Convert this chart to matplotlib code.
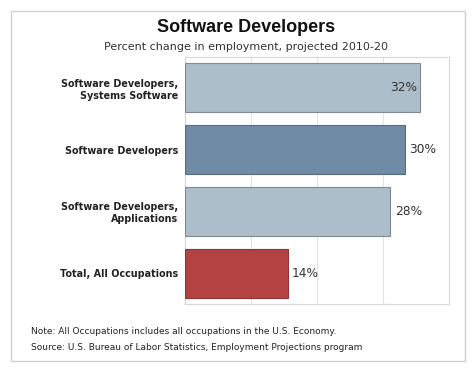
import matplotlib
matplotlib.use("Agg")
import matplotlib.pyplot as plt
from matplotlib.patches import Rectangle

W, H, DPI = 474, 369, 100

categories = ["Software Developers,\nSystems Software", "Software Developers",
              "Software Developers,\nApplications", "Total, All Occupations"]
values = [32, 30, 28, 14]
colors = ["#adbecb", "#6f8ba5", "#adbecb", "#b54242"]
edges = ["#7f8a93", "#5a6d80", "#7f8a93", "#8e3535"]
grid_ticks = [9, 18, 27]

fig = plt.figure(figsize=(W / DPI, H / DPI), dpi=DPI)
fig.patch.set_facecolor("white")

# outer frame of the graphic
fig.add_artist(Rectangle((11 / W, 1 - 361 / H), 454 / W, 350 / H,
                         transform=fig.transFigure, fill=False,
                         edgecolor="#d0d0d0", linewidth=1))

ax = fig.add_axes([185 / W, 1 - 304 / H, 264 / W, 247 / H])
ys = range(len(categories))
ax.barh(ys, values, height=0.79, color=colors, edgecolor=edges,
        linewidth=0.8, zorder=3)
ax.set_xlim(0, 36)
ax.set_ylim(len(categories) - 0.5, -0.5)
ax.set_xticks(grid_ticks)
ax.set_xticklabels([])
ax.tick_params(length=0)
ax.grid(axis="x", color="#e4e4e4", linewidth=0.8, zorder=0)
for sp in ax.spines.values():
    sp.set_color("#d8d8d8")
    sp.set_linewidth(0.8)

ax.set_yticks(list(ys))
ax.set_yticklabels(categories, fontsize=6.9, fontweight="bold",
                   family="DejaVu Sans", color="#222222", linespacing=1.25)
ax.tick_params(axis="y", pad=5)

for i, v in enumerate(values):
    if i == 0:
        ax.text(v - 0.3, i, f"{v}%", ha="right", va="center", fontsize=8.8,
                color="#333333", zorder=4)
    else:
        ax.text(v + 0.6, i, f"{v}%", ha="left", va="center", fontsize=8.8,
                color="#333333", zorder=4)

fig.text(246 / W, 1 - 28 / H, "Software Developers", ha="center",
         va="center", fontsize=13, fontweight="bold",
         family="Liberation Sans", color="#111111")
fig.text(246 / W, 1 - 47 / H,
         "Percent change in employment, projected 2010-20", ha="center",
         va="center", fontsize=8.0, color="#333333")
fig.text(31 / W, 1 - 332 / H,
         "Note: All Occupations includes all occupations in the U.S. Economy.",
         ha="left", va="center", fontsize=6.5, color="#222222")
fig.text(31 / W, 1 - 348 / H,
         "Source: U.S. Bureau of Labor Statistics, Employment Projections program",
         ha="left", va="center", fontsize=6.5, color="#222222")

fig.savefig("out.png", dpi=DPI, facecolor="white")
